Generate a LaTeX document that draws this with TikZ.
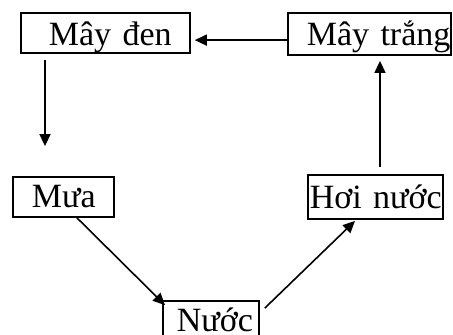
\documentclass[tikz,border=0pt]{standalone}
\usepackage{fontspec}
\setmainfont{Liberation Serif}
\usetikzlibrary{arrows.meta,calc}
\begin{document}
\begin{tikzpicture}[x=1pt,y=-1pt,
  box/.style={draw,line width=1.8pt,inner xsep=0pt,inner ysep=0pt,anchor=base west,align=left,
    font=\fontsize{34}{35}\selectfont},
  conn/.style={line width=1.6pt,-{Triangle[length=12pt,width=11pt]}}]
\useasboundingbox (0,0) rectangle (453,335);
\node[box,text width=169pt,text height=32pt,text depth=8pt] (mayden) at (20,45) {\hspace*{28pt}Mây đen};
\node[box,text width=163pt,text height=32pt,text depth=10pt] (maytrang) at (287,45) {\hspace*{19pt}Mây trắng};
\node[box,text width=101pt,text height=30pt,text depth=10pt] (mua) at (12,207) {\hspace*{19pt}Mưa};
\node[box,text width=135pt,text height=33pt,text depth=11pt] (hoinuoc) at (307,208) {\hspace*{2pt}Hơi nước};
\node[box,text width=96pt,text height=30pt,text depth=15pt] (nuoc) at (162,331) {\hspace*{14pt}Nước};
\coordinate (a1) at ($(mayden.south west)+(25,6)$);
\coordinate (a2) at ($(mua.north west)+(33,-30)$);
\draw[conn] ($(maytrang.north west)+(0,28)$) -- ($(mayden.north east)+(4,28)$);
\draw[conn] (a1) -- (a2);
\draw[conn] ($(mua.south west)+(65,0)$) -- ($(nuoc.north west)+(3,5)$);
\draw[conn] ($(nuoc.north east)+(5,8)$) -- ($(hoinuoc.south west)+(48,1)$);
\draw[conn] ($(hoinuoc.north west)+(73,-7)$) -- ($(maytrang.south west)+(93,5)$);
\end{tikzpicture}
\end{document}
